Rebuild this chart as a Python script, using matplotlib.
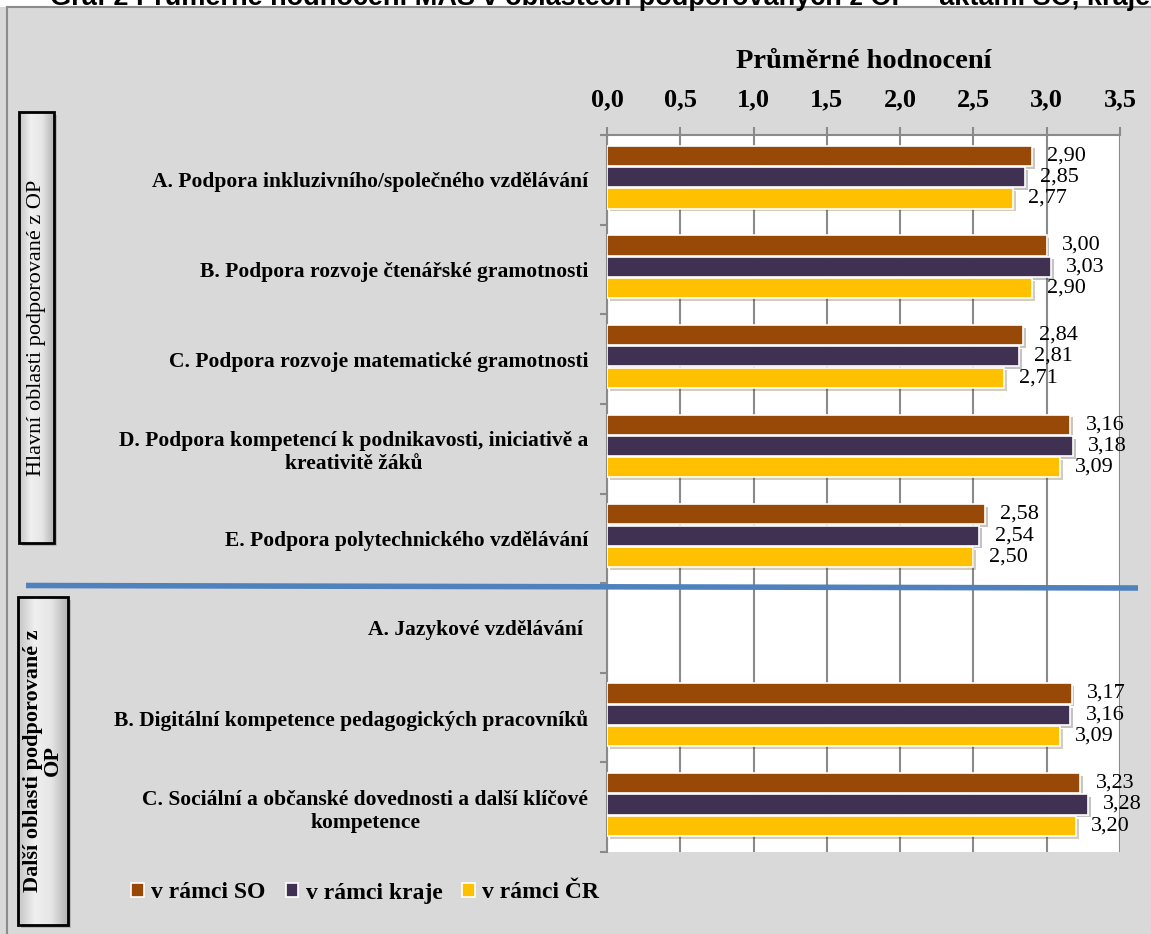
import matplotlib

matplotlib.use("Agg")
import matplotlib.pyplot as plt
import matplotlib.patheffects as pe
from matplotlib.patches import Rectangle, Patch
import numpy as np

TITLE = "Graf 2 Průměrné hodnocení MAS v oblastech podporovaných z OP – aktami SO, kraje a ČR"
CATEGORIES = [
    "A. Podpora inkluzivního/společného vzdělávání",
    "B. Podpora rozvoje čtenářské gramotnosti",
    "C. Podpora rozvoje matematické gramotnosti",
    "D. Podpora kompetencí k podnikavosti, iniciativě a\nkreativitě žáků",
    "E. Podpora polytechnického vzdělávání",
    "A. Jazykové vzdělávání ",
    "B. Digitální kompetence pedagogických pracovníků",
    "C. Sociální a občanské dovednosti a další klíčové\nkompetence",
]
SERIES = ["v rámci SO", "v rámci kraje", "v rámci ČR"]
SO = [2.90, 3.00, 2.84, 3.16, 2.58, np.nan, 3.17, 3.23]
KRAJE = [2.85, 3.03, 2.81, 3.18, 2.54, np.nan, 3.16, 3.28]
CR = [2.77, 2.90, 2.71, 3.09, 2.50, np.nan, 3.09, 3.20]
X_TICKS = [0.0, 0.5, 1.0, 1.5, 2.0, 2.5, 3.0, 3.5]
X_LABEL = "Průměrné hodnocení"
GROUP_MAIN = "Hlavní oblasti podporované z OP"
GROUP_OTHER = "Další oblasti podporované z\nOP"

COLORS = ["#984807", "#403152", "#ffc000"]
SERIF = "Liberation Serif"
W, H = 1151, 934
GRAY_BG = "#d9d9d9"
GRID = "#8a8a8a"


def comma(v, nd):
    return f"{v:.{nd}f}".replace(".", ",")


def main():
    fig = plt.figure(figsize=(W / 100, H / 100), dpi=100)
    fig.patch.set_facecolor(GRAY_BG)

    # --- main plot area (pixel box 607..1120 x 135..852) ---
    ax = fig.add_axes([607 / W, 1 - 852 / H, 513 / W, 717 / H])
    ax.set_facecolor("white")
    n = len(CATEGORIES)
    y = np.arange(n)
    step = 0.238
    bar_h = 0.225
    shadow = [pe.SimplePatchShadow(offset=(2, -2), alpha=0.25), pe.Normal()]
    for i, (name, vals) in enumerate(zip(SERIES, [SO, KRAJE, CR])):
        yy = y + (i - 1) * step - 0.03
        bars = ax.barh(yy, vals, height=bar_h, color=COLORS[i], edgecolor="white",
                       linewidth=1.2, label=name, zorder=3)
        for b in bars:
            b.set_path_effects(shadow)
        for v, yv in zip(vals, yy):
            if np.isnan(v):
                continue
            ax.annotate(comma(v, 2), (v, yv), xytext=(11, 0), textcoords="offset points",
                        ha="left", va="center", fontsize=16, family=SERIF,
                        color="black", annotation_clip=False, zorder=4)

    ax.set_xlim(0, 3.5)
    ax.set_ylim(n - 0.5, -0.5)

    ax.xaxis.tick_top()
    ax.set_xticks(X_TICKS)
    ax.set_xticklabels([comma(t, 1) for t in X_TICKS], fontsize=19,
                       fontweight="bold", family=SERIF)
    ax.tick_params(axis="x", length=6, width=1.5, color=GRID, pad=11)
    ax.grid(axis="x", color=GRID, linewidth=1.5, zorder=0)

    ax.set_yticks(np.arange(-0.5, n, 1))
    ax.set_yticklabels([])
    ax.tick_params(axis="y", length=5, width=1.5, color=GRID)
    ax.set_yticks(y, minor=True)
    ax.set_yticklabels(CATEGORIES, minor=True, fontsize=15.5, fontweight="bold",
                       family=SERIF, multialignment="center")
    ax.tick_params(axis="y", which="minor", length=0, pad=13.5)
    ax.set_axisbelow(True)

    for s in ["bottom", "right"]:
        ax.spines[s].set_visible(False)
    for s in ["top", "left"]:
        ax.spines[s].set_color(GRID)
        ax.spines[s].set_linewidth(1.5)

    fig.text(864 / W, 1 - 62 / H, X_LABEL, ha="center", va="center", fontsize=20.5,
             fontweight="bold", family=SERIF)

    # --- overlay in pixel coordinates: frame, group boxes, separator ---
    ov = fig.add_axes([0, 0, 1, 1], zorder=2)
    ov.patch.set_alpha(0)
    ov.set_axis_off()

    ov.add_patch(Rectangle((0, 0), W, 7, facecolor="white", edgecolor="none"))
    ov.plot([7, W], [7, 7], color="#8c8c8c", lw=1.5)
    ov.plot([7, 7], [7, H], color="#8c8c8c", lw=1.5)

    grad = np.linspace(0, 1, 64).reshape(1, -1)
    cmap = matplotlib.colors.LinearSegmentedColormap.from_list(
        "box", ["#c4c4c4", "#f0f0f0", "#e6e6e6", "#b4b4b4"])
    boxes = [
        (19, 112, 54, 543, GROUP_MAIN, "normal"),
        (18, 597, 68, 925, GROUP_OTHER, "bold"),
    ]
    for x0, y0, x1, y1, txt, weight in boxes:
        ov.add_patch(Rectangle((x0 + 3, y0 + 3), x1 - x0, y1 - y0,
                               facecolor="#888888", alpha=0.45, edgecolor="none"))
        ov.imshow(grad, extent=(x0, x1, y1, y0), cmap=cmap, aspect="auto",
                  interpolation="bicubic", zorder=1)
        ov.add_patch(Rectangle((x0, y0), x1 - x0, y1 - y0, facecolor="none",
                               edgecolor="black", lw=2, zorder=2))
        ov.text((x0 + x1) / 2, (y0 + y1) / 2, txt, rotation=90, ha="center",
                va="center", fontsize=16, fontweight=weight, family=SERIF,
                multialignment="center", linespacing=1.0, zorder=3)

    ov.plot([26, 1138], [585.5, 588], color="#4f81bd", lw=4, solid_capstyle="butt")

    ov.set_xlim(0, W)
    ov.set_ylim(H, 0)

    fig.text(50 / W, 1 - 5 / H, TITLE, ha="left", va="baseline", fontsize=19.5,
             fontweight="bold", family="Liberation Sans", zorder=5)

    handles = [Patch(facecolor=c, edgecolor="white", linewidth=1.2) for c in COLORS]
    fig.legend(handles, SERIES, loc="center left",
               bbox_to_anchor=(131 / W, 1 - 893 / H), ncol=3, frameon=False,
               handlelength=0.55, handleheight=0.55, handletextpad=0.3,
               columnspacing=0.85, borderpad=0, borderaxespad=0,
               prop={"family": SERIF, "weight": "bold", "size": 17})

    fig.savefig("out.png", dpi=100, facecolor=fig.get_facecolor())


if __name__ == "__main__":
    main()
